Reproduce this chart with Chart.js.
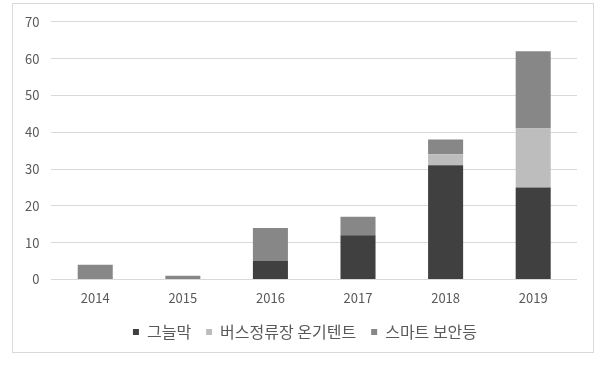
<!DOCTYPE html>
<html>
<head>
<meta charset="utf-8">
<script src="https://cdn.jsdelivr.net/npm/chart.js@4"></script>
<style>
  body { margin: 0; background: #fff; }
  .box {
    position: absolute; left: 12px; top: 3px;
    width: 580px; height: 348px;
    border: 1px solid #d9d9d9;
  }
  #chart { position: absolute; left: 0; top: -2px; }
</style>
</head>
<body>
<div class="box"><canvas id="chart" width="580" height="350"></canvas></div>
<script>
// 데이터
const years = ['2014', '2015', '2016', '2017', '2018', '2019'];
const shade = [0, 0, 5, 12, 31, 25];        // 그늘막
const warmTent = [0, 0, 0, 0, 3, 16];       // 버스정류장 온기텐트
const smartLight = [4, 1, 9, 5, 4, 21];     // 스마트 보안등
const yTicks = [0, 10, 20, 30, 40, 50, 60, 70];

const font = "'Noto Sans CJK KR', 'Noto Sans', sans-serif";

// 범례를 오른쪽으로 살짝 옮기기
const legendShift = {
    id: 'legendShift',
    beforeInit(chart) {
        const draw = chart.legend.draw;
        chart.legend.draw = function () {
            const c = this.ctx;
            c.save();
            c.translate(10, 0);
            draw.call(this);
            c.restore();
        };
    }
};

const ctx = document.getElementById('chart').getContext('2d');
new Chart(ctx, {
    type: 'bar',
    data: {
        labels: years,
        datasets: [
            { label: '그늘막', data: shade, backgroundColor: '#404040' },
            { label: '버스정류장 온기텐트', data: warmTent, backgroundColor: '#bdbdbd' },
            { label: '스마트 보안등', data: smartLight, backgroundColor: '#878787' }
        ]
    },
    options: {
        responsive: false,
        animation: false,
        layout: { padding: { left: 0, right: 16, top: 5, bottom: 2 } },
        datasets: { bar: { categoryPercentage: 1, barPercentage: 0.4 } },
        scales: {
            x: {
                stacked: true,
                grid: { display: false },
                border: { display: false },
                ticks: { color: '#595959', font: { family: font, size: 13 }, padding: 3 }
            },
            y: {
                stacked: true,
                min: 0, max: 70,
                afterBuildTicks: axis => { axis.ticks = yTicks.map(v => ({ value: v })); },
                grid: { color: '#d9d9d9', drawTicks: false },
                border: { display: false },
                ticks: { color: '#595959', font: { family: font, size: 13 }, padding: 12 }
            }
        },
        plugins: {
            legend: {
                position: 'bottom',
                labels: {
                    boxWidth: 6, boxHeight: 6,
                    color: '#595959',
                    font: { family: font, size: 16 },
                    padding: 15
                }
            },
            tooltip: { enabled: false }
        }
    },
    plugins: [legendShift]
});
</script>
</body>
</html>
